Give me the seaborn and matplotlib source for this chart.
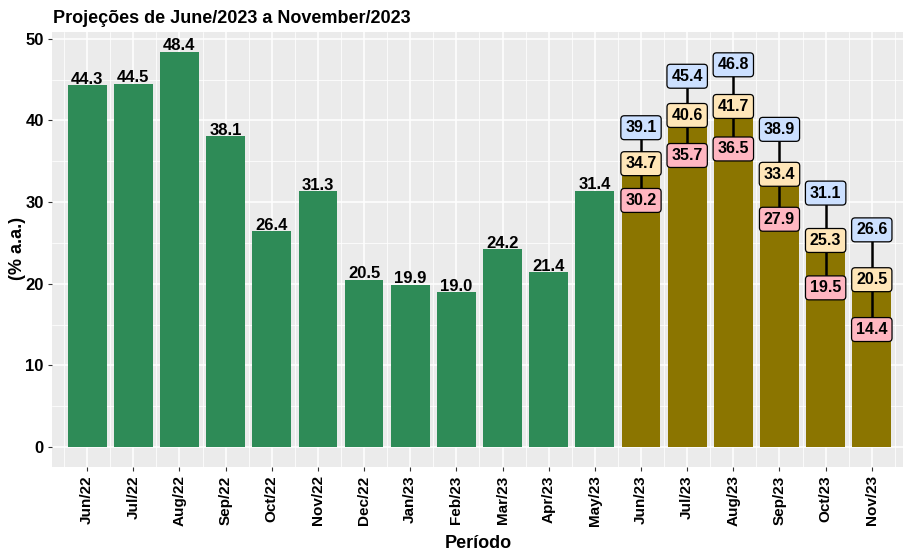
import numpy as np
import pandas as pd
import matplotlib
matplotlib.use("Agg")
import matplotlib.pyplot as plt
from matplotlib.ticker import MultipleLocator
import seaborn as sns

# Dados históricos e projeções
periodos = ["Jun/22", "Jul/22", "Aug/22", "Sep/22", "Oct/22", "Nov/22", "Dec/22",
            "Jan/23", "Feb/23", "Mar/23", "Apr/23", "May/23",
            "Jun/23", "Jul/23", "Aug/23", "Sep/23", "Oct/23", "Nov/23"]
historico = [44.3, 44.5, 48.4, 38.1, 26.4, 31.3, 20.5, 19.9, 19.0, 24.2, 21.4, 31.4]
proj_baixo = [30.2, 35.7, 36.5, 27.9, 19.5, 14.4]
proj_medio = [34.7, 40.6, 41.7, 33.4, 25.3, 20.5]
proj_alto = [39.1, 45.4, 46.8, 38.9, 31.1, 26.6]

n_hist = len(historico)
df = pd.DataFrame({
    "periodo": periodos,
    "valor": historico + proj_medio,
    "tipo": ["hist"] * n_hist + ["proj"] * len(proj_medio),
})

sns.set_theme(style="darkgrid", rc={
    "axes.facecolor": "#EBEBEB",
    "grid.color": "white",
    "axes.edgecolor": "#EBEBEB",
    "text.color": "black",
})
plt.rcParams["font.family"] = ["Liberation Sans", "DejaVu Sans"]

fig = plt.figure(figsize=(9.05, 5.51), dpi=100)
ax = fig.add_axes([0.0575, 0.1525, 0.9405, 0.7895])

sns.barplot(data=df, x="periodo", y="valor", hue="tipo",
            palette={"hist": "#2E8B57", "proj": "#8B7500"},
            dodge=False, width=0.84, saturation=1, legend=False,
            linewidth=0, ax=ax)

# Rótulos do histórico
for i, v in enumerate(historico):
    ax.text(i, v - 0.2, f"{v:.1f}", ha="center", va="bottom", fontsize=12,
            fontweight="bold", color="black")

# Intervalos das projeções
xs = np.arange(n_hist, len(periodos))
ax.vlines(xs, proj_baixo, proj_alto, color="black", lw=1.8, zorder=4)
cores = [(proj_baixo, "#FFB6C1"), (proj_medio, "#FFE6B8"), (proj_alto, "#CCE0FF")]
for vals, cor in cores:
    for x, v in zip(xs, vals):
        ax.text(x, v, f"{v:.1f}", ha="center", va="center", fontsize=11.5,
                fontweight="bold", color="black", zorder=5,
                bbox=dict(boxstyle="round,pad=0.28,rounding_size=0.22",
                          fc=cor, ec="black", lw=0.9))

ax.set_ylim(-2.42, 50.82)
ax.set_xlim(-0.76, 17.68)
ax.yaxis.set_major_locator(MultipleLocator(10))
ax.yaxis.set_minor_locator(MultipleLocator(5))
ax.set_xticks(np.arange(-0.5, 18, 1), minor=True)
ax.grid(which="major", color="white", lw=1.1)
ax.grid(which="minor", color="white", lw=0.55)
ax.set_axisbelow(True)

ax.tick_params(axis="both", which="major", length=3, width=0.8, color="#333333",
               labelsize=11, pad=3, bottom=True, left=True)
ax.tick_params(axis="y", which="major", labelsize=12)
ax.tick_params(axis="both", which="minor", length=0)
plt.setp(ax.get_xticklabels(), rotation=90, fontweight="bold", color="black")
plt.setp(ax.get_yticklabels(), fontweight="bold", color="black")

ax.set_xlabel("")
ax.set_ylabel("")
fig.text(478.5 / 905, 1 - 548 / 551, "Período", fontsize=13,
         fontweight="bold", ha="center", va="baseline")
fig.text(17 / 905, 1 - 248 / 551, "(% a.a.)", fontsize=13, rotation=90,
         fontweight="bold", ha="center", va="center")
fig.text(53 / 905, 1 - 23 / 551, "Projeções de June/2023 a November/2023",
         fontsize=13, fontweight="bold", ha="left", va="baseline")
for s in ax.spines.values():
    s.set_visible(False)

fig.savefig("out.png", dpi=100)
plt.close()
